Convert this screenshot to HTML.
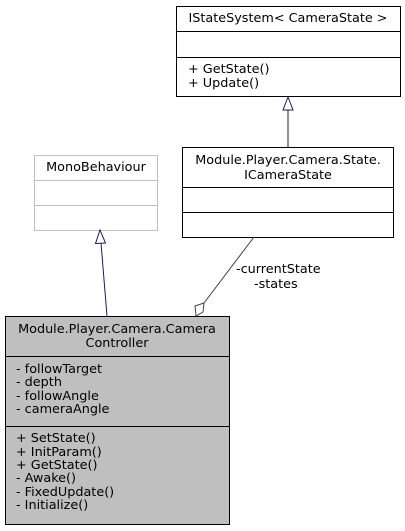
<!DOCTYPE html>
<html><head><style>body{margin:0;background:#fff}svg{display:block}</style></head><body>
<svg width="405" height="531" xmlns="http://www.w3.org/2000/svg" font-family="DejaVu Sans, sans-serif" font-size="12.8">
<rect x="0" y="0" width="405" height="531" fill="#fff"/>
<!-- IStateSystem -->
<rect x="176.5" y="6.5" width="224" height="90" fill="#fff" stroke="#000"/>
<line x1="176.5" y1="31.5" x2="400.5" y2="31.5" stroke="#000"/>
<line x1="176.5" y1="57.5" x2="400.5" y2="57.5" stroke="#000"/>
<text x="288" y="22" text-anchor="middle">IStateSystem&lt; CameraState &gt;</text>
<text x="188" y="73">+ GetState()</text>
<text x="188" y="87">+ Update()</text>
<!-- ICameraState -->
<rect x="182.5" y="147.5" width="211" height="90" fill="#fff" stroke="#000"/>
<line x1="182.5" y1="187.5" x2="393.5" y2="187.5" stroke="#000"/>
<line x1="182.5" y1="212.5" x2="393.5" y2="212.5" stroke="#000"/>
<text x="288" y="164" text-anchor="middle">Module.Player.Camera.State.</text>
<text x="288" y="179" text-anchor="middle">ICameraState</text>
<!-- MonoBehaviour -->
<rect x="34.5" y="155.5" width="123" height="75" fill="#fff" stroke="#bfbfbf"/>
<line x1="34.5" y1="180.5" x2="157.5" y2="180.5" stroke="#bfbfbf"/>
<line x1="34.5" y1="205.5" x2="157.5" y2="205.5" stroke="#bfbfbf"/>
<text x="96" y="171" text-anchor="middle">MonoBehaviour</text>
<!-- CameraController -->
<rect x="5.5" y="316.5" width="224" height="208" fill="#bfbfbf" stroke="#000"/>
<line x1="5.5" y1="356.5" x2="229.5" y2="356.5" stroke="#000"/>
<line x1="5.5" y1="426.5" x2="229.5" y2="426.5" stroke="#000"/>
<text x="117" y="333" text-anchor="middle">Module.Player.Camera.Camera</text>
<text x="117" y="347" text-anchor="middle">Controller</text>
<text x="16" y="373">- followTarget</text>
<text x="16" y="386">- depth</text>
<text x="16" y="400">- followAngle</text>
<text x="16" y="413">- cameraAngle</text>
<text x="16" y="442">+ SetState()</text>
<text x="16" y="456">+ InitParam()</text>
<text x="16" y="469">+ GetState()</text>
<text x="16" y="482">- Awake()</text>
<text x="16" y="496">- FixedUpdate()</text>
<text x="16" y="509">- Initialize()</text>
<!-- inheritance ICameraState -> IStateSystem -->
<line x1="288" y1="147" x2="288" y2="110" stroke="#191970"/>
<polygon points="288,97 283,110 293,110" fill="#fff" stroke="#191970"/>
<!-- inheritance Controller -> MonoBehaviour -->
<line x1="107" y1="316" x2="101" y2="243" stroke="#191970"/>
<polygon points="100,230 95.5,243.5 105.5,243" fill="#fff" stroke="#191970"/>
<!-- aggregation -->
<line x1="254" y1="237" x2="204" y2="303" stroke="#404040"/>
<polygon points="196,316 195,306 204,303 203,312" fill="#fff" stroke="#404040"/>
<text x="236" y="273">-currentState</text>
<text x="254" y="288">-states</text>
</svg>
</body></html>
